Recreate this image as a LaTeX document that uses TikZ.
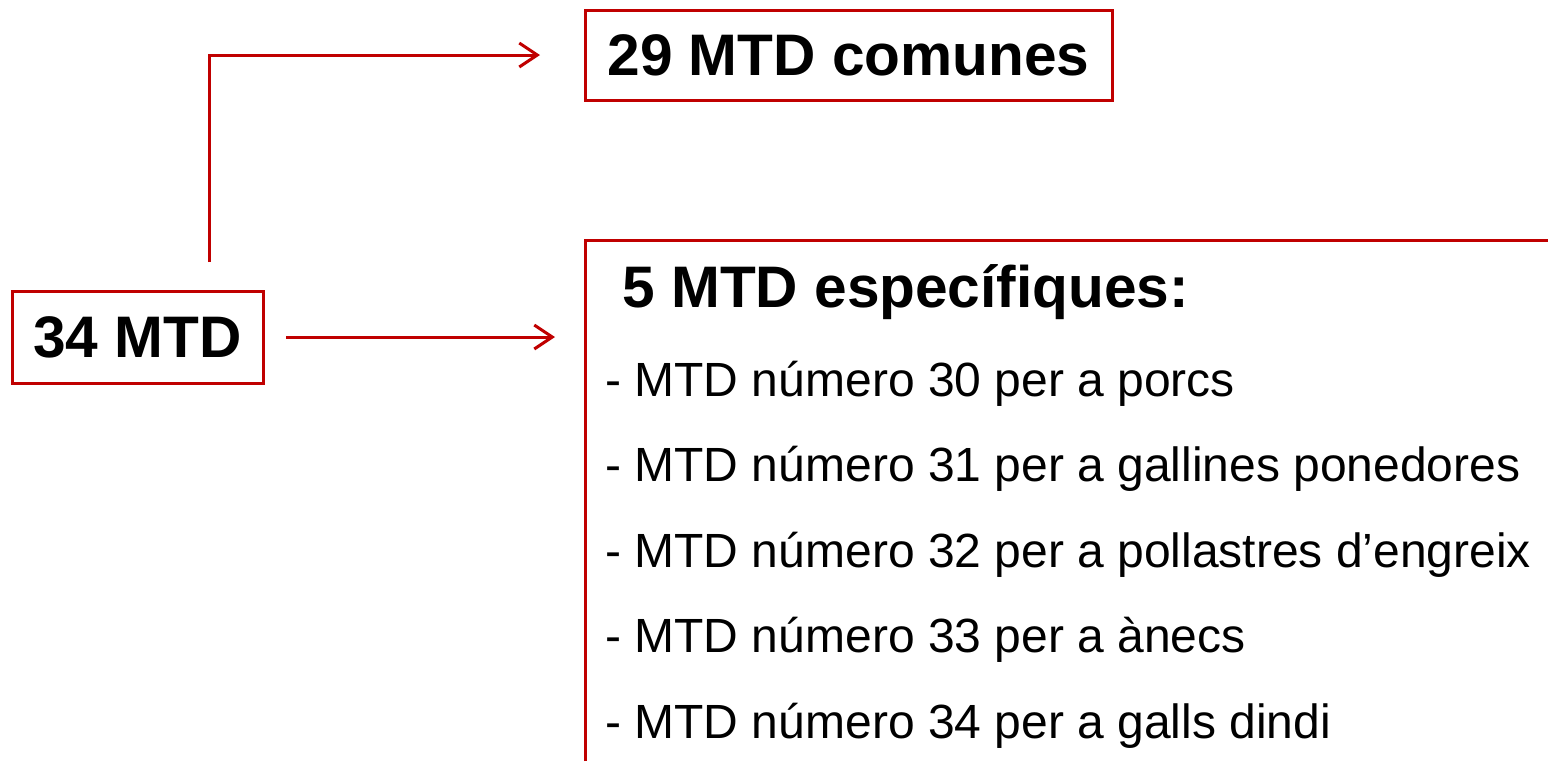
\documentclass[tikz,border=0pt]{standalone}
\usepackage{fontspec}
\setmainfont{Liberation Sans}
\usetikzlibrary{arrows.meta}
\definecolor{mred}{HTML}{C00000}
\begin{document}
\begin{tikzpicture}[x=0.5pt,y=-0.5pt,
  box/.style={draw=mred,line width=1.5pt,inner sep=0pt},
  conn/.style={draw=mred,line width=1.5pt,-{Straight Barb[length=9pt,width=12pt,line width=1.5pt]}},
  big/.style={font=\fontsize{29.3}{35}\selectfont\bfseries},
  item/.style={font=\fontsize{24}{29}\selectfont, anchor=base west, inner sep=0pt}]
\useasboundingbox (0,0) rectangle (1548,761);
\node[box,big,minimum width=125.5pt,minimum height=46pt] (src) at (137.5,337) {34 MTD};
\node[box,big,minimum width=263.5pt,minimum height=45pt] (com) at (848.5,55) {29 MTD comunes};
% big open box
\coordinate (bbl) at (585,761);
\coordinate (btl) at (585,240);
\coordinate (btr) at (1548,240);
\draw[mred,line width=1.5pt] (bbl) -- (btl) -- (btr);
\node[big,anchor=base west,inner sep=0pt] (head) at (622,307) {5 MTD específiques:};
\node[item] (i1) at (605,396) {- MTD número 30 per a porcs};
\node[item] (i2) at (605,481.5) {- MTD número 31 per a gallines ponedores};
\node[item] (i3) at (605,567) {- MTD número 32 per a pollastres d’engreix};
\node[item] (i4) at (605,652.5) {- MTD número 33 per a ànecs};
\node[item] (i5) at (605,738) {- MTD número 34 per a galls dindi};
% connectors
\coordinate (s1) at (286,337);
\coordinate (e1) at (555,337);
\draw[conn] (s1) -- (e1);
\coordinate (s2) at (209,262);
\coordinate (e2) at (540,55);
\draw[conn] (s2) |- (e2);
\end{tikzpicture}
\end{document}
